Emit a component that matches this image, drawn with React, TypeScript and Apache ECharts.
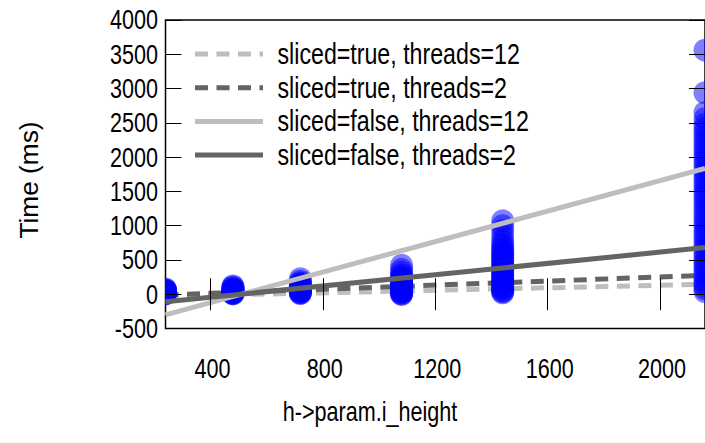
import React, { useEffect, useRef } from "react";
import * as echarts from "echarts";

const xTicks = [400, 800, 1200, 1600, 2000];
const yTicks = [-500, 0, 500, 1000, 1500, 2000, 2500, 3000, 3500, 4000];
const lineX = [240, 2160];

const seriesNames = [
  "sliced=true, threads=12",
  "sliced=true, threads=2",
  "sliced=false, threads=12",
  "sliced=false, threads=2",
];
const trueT12 = [-30, 145];
const trueT2 = [-10, 275];
const falseT12 = [-300, 1835];
const falseT2 = [-110, 680];

const heights = [240, 480, 720, 1080, 1440, 2160];
const c240 = [5, 10, 14, 18, 22, 26, 30, 34, 38, 44, 50, 58, 66, 75];
const c480 = [5, 10, 15, 20, 25, 30, 36, 42, 48, 55, 62, 70, 80, 92, 105, 120];
const c720 = [10, 18, 26, 34, 42, 50, 58, 66, 75, 85, 95, 105, 115, 125, 138, 150, 165, 190, 225];
const c1080 = [15, 25, 35, 45, 55, 65, 75, 88, 100, 112, 125, 138, 150, 165, 180, 195, 210, 225, 240, 255, 270, 300, 340, 380, 440];
const c1440 = [20, 35, 50, 70, 90, 110, 130, 150, 170, 190, 210, 235, 260, 285, 310, 335, 360, 385, 410, 440, 470, 500, 530, 560, 590, 620, 650, 690, 730, 780, 850, 930, 1000, 1070];
const c2160 = [40, 80, 120, 160, 200, 250, 300, 350, 400, 450, 500, 560, 620, 680, 740, 800, 860, 920, 980, 1040, 1100, 1160, 1220, 1280, 1340, 1400, 1460, 1520, 1580, 1640, 1700, 1760, 1820, 1880, 1940, 2000, 2060, 2120, 2180, 2240, 2300, 2360, 2420, 2480, 2560, 2650, 2940, 3560];
const clusters = [c240, c480, c720, c1080, c1440, c2160];

const xName = "h->param.i_height";
const yName = "Time (ms)";

const FONT = "'Liberation Sans', Arial, Helvetica, sans-serif";
const LIGHT = "#bebebe";
const DARK = "#646464";
const seriesColors = [LIGHT, DARK, LIGHT, DARK];
const seriesDashed = [true, true, false, false];
const DASH = [13, 8.5];
const FS = 21.6;
const LFS = 23.2;
const STRETCH = 1.27;

export default function App() {
  const ref = useRef<HTMLDivElement>(null);
  useEffect(() => {
    if (!ref.current) return;
    const chart = echarts.init(ref.current, null, { renderer: "svg" });
    const points: number[][] = [];
    heights.forEach((h, i) => clusters[i].forEach((v) => points.push([h, v])));
    const lineVals = [trueT12, trueT2, falseT12, falseT2];
    const mkLine = (i: number, z: number) => ({
      name: seriesNames[i],
      type: "line",
      data: lineX.map((x, k) => [x, lineVals[i][k]]),
      symbol: "none",
      z,
      lineStyle: { color: seriesColors[i], width: 5, type: seriesDashed[i] ? DASH : "solid", cap: "butt" },
      itemStyle: { color: seriesColors[i] },
      clip: true,
    });
    const tickCommon = { inside: true, length: 16, lineStyle: { color: "#000", width: 1 } };
    chart.setOption({
      animation: false,
      textStyle: { fontFamily: FONT },
      grid: {
        left: 165.5,
        top: 20,
        right: -1.5,
        bottom: 114.5,
        show: true,
        borderColor: "#000",
        borderWidth: 1.5,
        backgroundColor: "transparent",
      },
      xAxis: [
        {
          type: "value", min: 240, max: 2160, position: "bottom", z: 10,
          axisLine: { show: false },
          axisTick: { ...tickCommon, customValues: xTicks },
          axisLabel: { show: false },
          splitLine: { show: false },
        },
        {
          type: "value", min: 240, max: 2160, position: "top", z: 10,
          axisLine: { show: false },
          axisTick: { ...tickCommon, customValues: xTicks },
          axisLabel: { show: false },
          splitLine: { show: false },
        },
      ],
      yAxis: [
        {
          type: "value", min: -500, max: 4000, interval: 500, position: "left", z: 10,
          axisLine: { show: false },
          axisTick: tickCommon,
          axisLabel: { show: false },
          splitLine: { show: false },
        },
        {
          type: "value", min: -500, max: 4000, interval: 500, position: "right", z: 10,
          axisLine: { show: false },
          axisTick: tickCommon,
          axisLabel: { show: false },
          splitLine: { show: false },
        },
      ],
      series: [
        mkLine(0, 1),
        mkLine(1, 1),
        {
          type: "custom",
          name: "times",
          z: 2,
          clip: true,
          data: points,
          encode: { x: 0, y: 1 },
          renderItem: (params: any, api: any) => {
            const p = api.coord([api.value(0), api.value(1)]);
            return {
              type: "circle",
              shape: { cx: p[0], cy: p[1], r: 11.5 },
              style: { fill: "rgba(0,0,255,0.5)" },
            };
          },
        },
        mkLine(2, 3),
        mkLine(3, 3),
      ],
    });

    // Texts (tall, narrow lettering as in the reference) placed through the axes' scales
    const txt = (text: string, x: number, y: number, align: string, fs: number, extra: any = {}) => ({
      type: "text",
      x,
      y,
      scaleY: STRETCH,
      z: 20,
      silent: true,
      style: { text, x: 0, y: 0, align, verticalAlign: "middle", fontFamily: FONT, fontSize: fs, fill: "#000" },
      ...extra,
    });
    const graphics: any[] = [];
    yTicks.forEach((v) => {
      const py = chart.convertToPixel({ yAxisIndex: 0 }, v) as number;
      graphics.push(txt(String(v), 158, py, "right", FS));
    });
    xTicks.forEach((v) => {
      const px = chart.convertToPixel({ xAxisIndex: 0 }, v) as number;
      graphics.push(txt(String(v), px + 2, 369, "center", FS));
    });
    graphics.push(txt(xName, 370, 412, "center", FS));
    graphics.push({
      type: "text",
      x: 29,
      y: 180,
      rotation: Math.PI / 2,
      scaleX: 1.05,
      z: 20,
      silent: true,
      style: { text: yName, x: 0, y: 0, align: "center", verticalAlign: "middle", fontFamily: FONT, fontSize: 25, fill: "#000" },
    });
    // Legend
    seriesNames.forEach((name, i) => {
      const ly = 54 + i * 33.7;
      graphics.push({
        type: "line",
        z: 20,
        silent: true,
        shape: { x1: 195, y1: ly, x2: 263, y2: ly },
        style: { stroke: seriesColors[i], lineWidth: 5, lineDash: seriesDashed[i] ? DASH : null, lineCap: "butt" },
      });
      graphics.push(txt(name, 277.5, ly, "left", LFS));
    });
    chart.setOption({ graphic: graphics });
    return () => chart.dispose();
  }, []);
  return <div ref={ref} style={{ position: "absolute", left: 0, top: 0, width: 705, height: 443 }} />;
}
